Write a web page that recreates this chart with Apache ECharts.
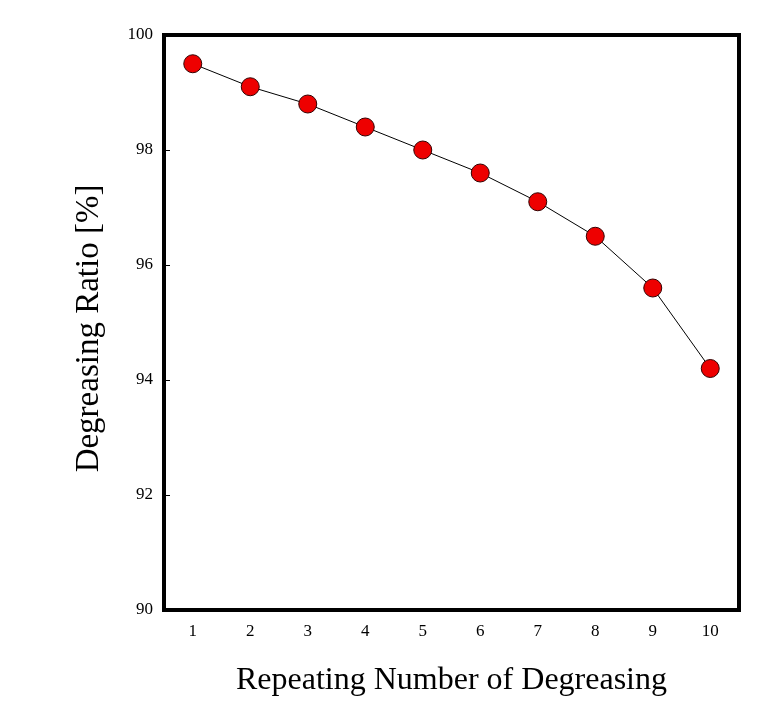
<!DOCTYPE html>
<html><head><meta charset="utf-8">
<script src="https://cdn.jsdelivr.net/npm/echarts@6/dist/echarts.min.js"></script>
<style>html,body{margin:0;padding:0;background:#fff}#c{width:758px;height:709px}</style>
</head><body><div id="c"></div>
<script>
const categories = ['1','2','3','4','5','6','7','8','9','10'];
const ratio = [99.5, 99.1, 98.8, 98.4, 98.0, 97.6, 97.1, 96.5, 95.6, 94.2];
const yTicks = [90, 92, 94, 96, 98, 100];
const font = 'Liberation Serif';
const chart = echarts.init(document.getElementById('c'));
chart.setOption({
  animation: false,
  backgroundColor: '#fff',
  grid: { left: 164, right: 19, top: 35, bottom: 99, show: true, borderWidth: 4, borderColor: '#000' },
  xAxis: {
    type: 'category', data: categories, boundaryGap: true,
    name: 'Repeating Number of Degreasing', nameLocation: 'middle', nameGap: 55,
    nameTextStyle: { fontFamily: font, fontSize: 32, color: '#000' },
    axisLine: { lineStyle: { color: '#000', width: 4 } },
    axisTick: { inside: true, alignWithLabel: true, length: 6, lineStyle: { color: '#000', width: 1 } },
    axisLabel: { fontFamily: font, fontSize: 17, color: '#000', margin: 13 },
    splitLine: { show: false }
  },
  yAxis: {
    type: 'value', min: yTicks[0], max: yTicks[yTicks.length-1], interval: 2,
    name: 'Degreasing Ratio [%]', nameLocation: 'middle', nameGap: 58,
    nameTextStyle: { fontFamily: font, fontSize: 33, color: '#000', padding: [0, 12, 0, 0] },
    axisLine: { show: true, lineStyle: { color: '#000', width: 4 } },
    axisTick: { show: true, inside: true, length: 6, lineStyle: { color: '#000', width: 1 } },
    axisLabel: { fontFamily: font, fontSize: 17, color: '#000', margin: 11 },
    splitLine: { show: false }
  },
  series: [{
    type: 'line', data: ratio, symbol: 'circle', symbolSize: 18,
    lineStyle: { color: '#000', width: 1 },
    itemStyle: { color: '#ee0000', borderColor: '#300', borderWidth: 1 }
  }]
});
</script></body></html>
